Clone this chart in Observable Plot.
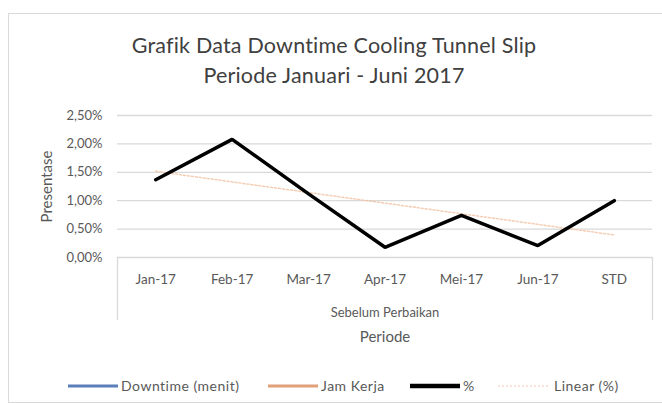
<!DOCTYPE html>
<html>
<head>
<meta charset="utf-8">
<script src="https://cdn.jsdelivr.net/npm/d3@7"></script>
<script src="https://cdn.jsdelivr.net/npm/@observablehq/plot@0.6"></script>
<style>
  body { margin: 0; background: #fff; }
  #wrap { position: relative; width: 662px; height: 403px; overflow: hidden; font-family: Lato, "Open Sans", sans-serif; }
  #frame { position: absolute; left: 8px; top: 13px; width: 670px; height: 388px; border: 1px solid #d9d9d9; }
  #title { position: absolute; left: 8px; top: 30px; width: 652px; text-align: center; font-size: 21.5px; line-height: 30px; color: #404040; letter-spacing: 0.2px; }
  #chart { position: absolute; left: 0; top: 100px; }
  .leg { position: absolute; top: 377px; height: 18px; font-size: 14px; color: #595959; letter-spacing: 0.5px; white-space: nowrap; line-height: 18px; }
  .sw { position: absolute; }
</style>
</head>
<body>
<div id="wrap">
  <div id="frame"></div>
  <div id="title"></div>
  <div id="chart"></div>
  <div id="legend"></div>
</div>
<script>
const titleLines = ["Grafik Data Downtime Cooling Tunnel Slip", "Periode Januari - Juni 2017"];
const categories = ["Jan-17", "Feb-17", "Mar-17", "Apr-17", "Mei-17", "Jun-17", "STD"];
const percentValues = [1.37, 2.08, 1.12, 0.18, 0.74, 0.21, 1.00];
const yTicks = [0, 0.5, 1.0, 1.5, 2.0, 2.5];
const groupLabel = "Sebelum Perbaikan";
const xTitle = "Periode";
const yTitle = "Presentase";
const legendItems = [
  {name: "Downtime (menit)", color: "#5b7fb8", width: 3, dash: null, x: 68},
  {name: "Jam Kerja", color: "#e0a078", width: 3, dash: null, x: 268},
  {name: "%", color: "#000000", width: 4.5, dash: null, x: 410},
  {name: "Linear (%)", color: "#f2c9ad", width: 1.2, dash: "2,2", x: 498}
];

document.getElementById("title").innerHTML = titleLines.map(t => `<div>${t}</div>`).join("");

const data = categories.map((c, i) => ({idx: i + 1, cat: c, pct: percentValues[i]}));
const idx = data.map(d => d.idx);
const fmt = d => d.toFixed(2).replace(".", ",") + "%";

const chart = Plot.plot({
  width: 662,
  height: 250,
  marginTop: 15,
  marginBottom: 93,
  marginLeft: 117,
  marginRight: 10,
  style: {fontFamily: "Lato, 'Open Sans', sans-serif", fontSize: "13px", color: "#595959", background: "transparent"},
  x: {type: "linear", domain: [0.5, categories.length + 0.5]},
  y: {domain: [0, 2.5]},
  marks: [
    Plot.ruleY(yTicks, {stroke: "#d9d9d9", strokeWidth: 1.3}),
    Plot.axisY(yTicks, {tickSize: 0, tickPadding: 15, tickFormat: fmt, label: null, fill: "#595959", fontSize: 13, letterSpacing: "0.6px"}),
    Plot.axisX([0.5, categories.length + 0.5], {tickSize: 63, tickFormat: () => "", stroke: "#d9d9d9", strokeWidth: 1.3, strokeOpacity: 1, label: null}),
    Plot.axisX(idx, {tickSize: 0, tickPadding: 17, tickFormat: i => categories[i - 1], label: null, fill: "#595959", fontSize: 13.5, letterSpacing: "0.8px"}),
    Plot.linearRegressionY(data, {x: "idx", y: "pct", ci: 0, stroke: "#f2c0a0", strokeWidth: 1.5, strokeDasharray: "2,2", strokeOpacity: 0.8}),
    Plot.line(data, {x: "idx", y: "pct", stroke: "#000", strokeWidth: 3.5, strokeLinejoin: "miter"}),
    Plot.text([yTitle], {frameAnchor: "left", dx: -70, rotate: -90, fontSize: 15, fill: "#595959", textAnchor: "middle", lineAnchor: "middle", letterSpacing: "0.4px"}),
    Plot.text([groupLabel], {frameAnchor: "bottom", dy: 55, fontSize: 13, fill: "#595959", lineAnchor: "middle", letterSpacing: "0.5px"}),
    Plot.text([xTitle], {frameAnchor: "bottom", dy: 80, fontSize: 15, fill: "#595959", lineAnchor: "middle", letterSpacing: "0.5px"})
  ]
});
document.getElementById("chart").appendChild(chart);

const leg = document.getElementById("legend");
legendItems.forEach(it => {
  const w = 50;
  const dashAttr = it.dash ? `stroke-dasharray="${it.dash}"` : "";
  leg.insertAdjacentHTML("beforeend",
    `<svg class="sw" width="${w}" height="10" style="left:${it.x}px;top:381px"><line x1="0" x2="${w}" y1="5" y2="5" stroke="${it.color}" stroke-width="${it.width}" ${dashAttr}/></svg>` +
    `<div class="leg" style="left:${it.x + w + (it.name === "Linear (%)" ? 6 : 3)}px">${it.name}</div>`);
});
</script>
</body>
</html>
